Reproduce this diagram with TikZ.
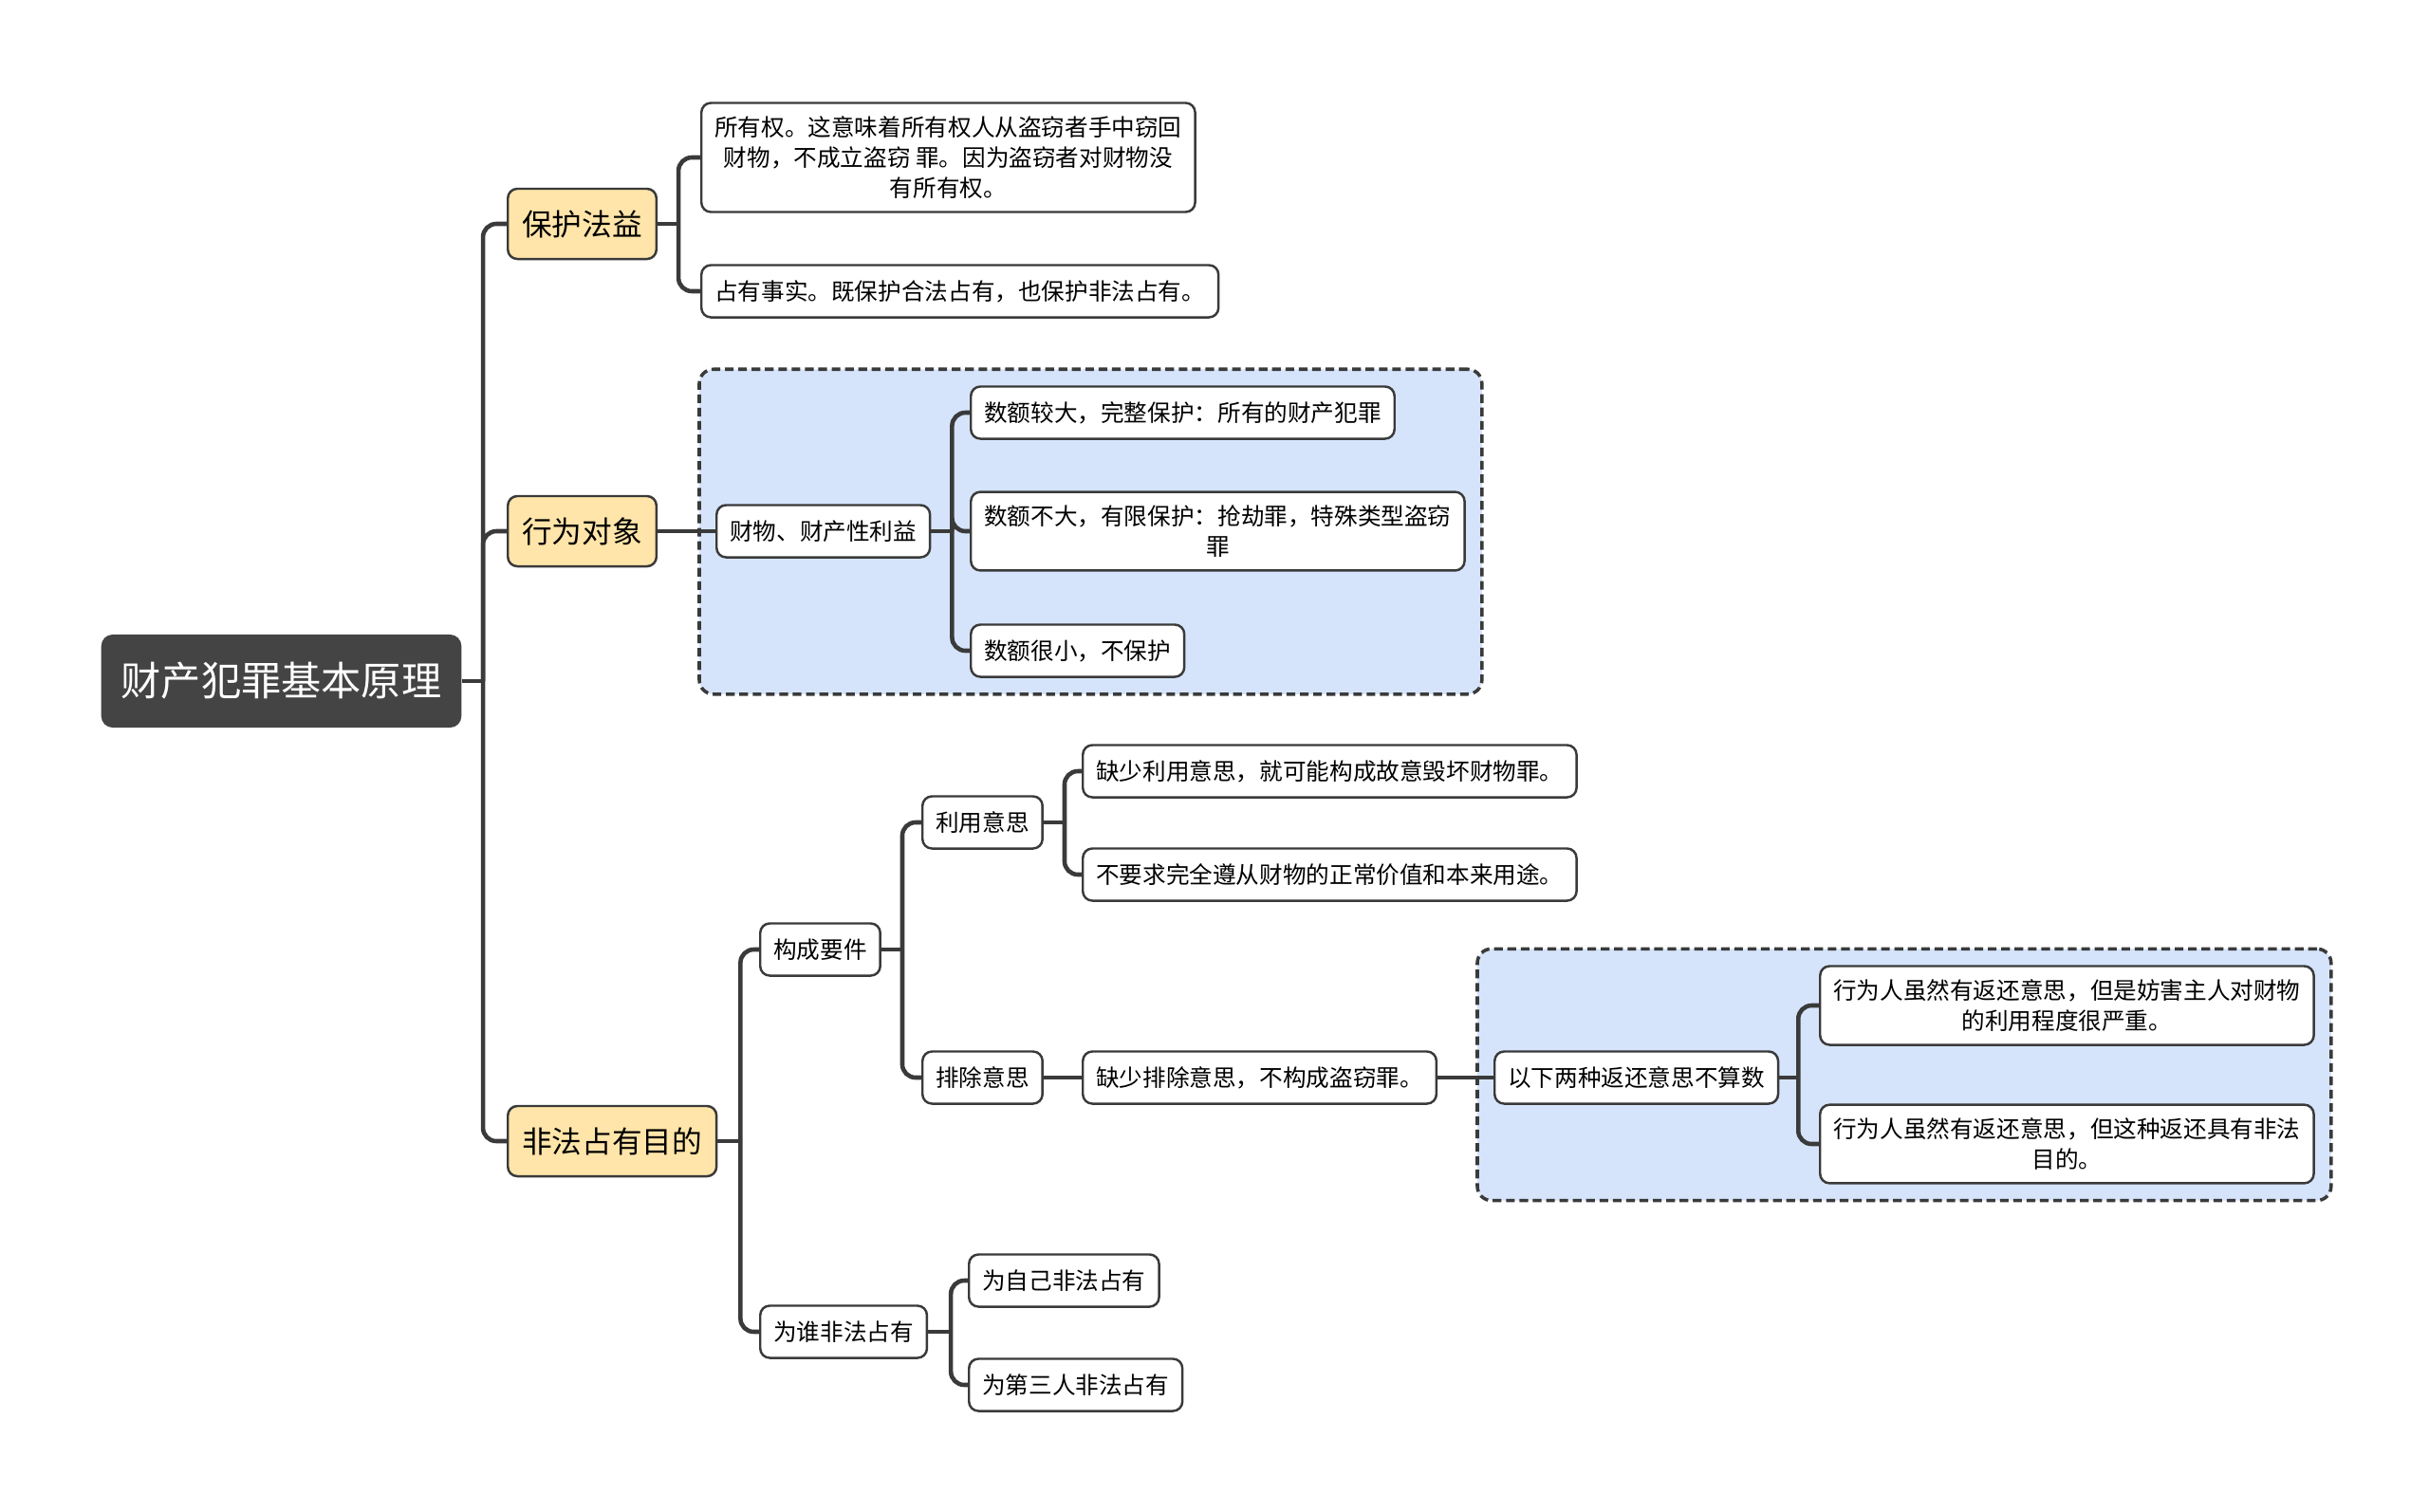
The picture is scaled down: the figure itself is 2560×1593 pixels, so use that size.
\documentclass[tikz,border=0pt]{standalone}
\usepackage{fontspec}
\setmainfont{Noto Sans CJK SC}
\usepackage{tikz}
\usetikzlibrary{fit,backgrounds}
\definecolor{mapline}{HTML}{3A3A3A}
\definecolor{maproot}{HTML}{444444}
\definecolor{mapgold}{HTML}{FFE5A9}
\definecolor{mapblue}{HTML}{D5E4FB}
\newcommand{\leaffont}{\fontsize{7}{9.1}\selectfont}

\begin{document}
\begin{tikzpicture}[x=0.01cm, y=-0.01cm,
    root/.style={rectangle, rounded corners=0.12cm, fill=maproot, text=white,
                 anchor=west, minimum height=0.98cm, inner xsep=0.21cm,
                 font=\fontsize{12}{14}\selectfont},
    topic/.style={rectangle, rounded corners=0.1cm, draw=mapline, line width=0.7pt,
                  fill=mapgold, anchor=west, minimum height=0.74cm, inner xsep=0.15cm,
                  font=\fontsize{9}{11}\selectfont},
    leaf/.style={rectangle, rounded corners=0.1cm, draw=mapline, line width=0.7pt,
                 fill=white, anchor=west, minimum height=0.55cm, inner xsep=0.14cm,
                 inner ysep=0.14cm, align=center, font=\leaffont},
    region/.style={rectangle, rounded corners=0.15cm, draw=mapline, line width=1pt,
                   dash pattern=on 2.6pt off 1.4pt, fill=mapblue, inner sep=0.17cm},
    conn/.style={draw=mapline, line width=1.3pt, rounded corners=0.14cm}]

    \useasboundingbox (0,0) rectangle (2560,1593);

    %% Root and main topics
    \node[root] (root) at (106,718) {财产犯罪基本原理};
    \node[topic] (hufa) at (534,236) {保护法益};
    \node[topic] (duixiang) at (534,560) {行为对象};
    \node[topic] (mudi) at (534,1203) {非法占有目的};

    %% 保护法益
    \node[leaf] (suoyou) at (738,166)
      {所有权。这意味着所有权人从盗窃者手中窃回\\财物，不成立盗窃 罪。因为盗窃者对财物没\\有所有权。};
    \node[leaf] (zhanyou) at (738,307) {占有事实。既保护合法占有，也保护非法占有。};

    %% 行为对象
    \node[leaf] (caiwu) at (754,560) {财物、财产性利益};
    \node[leaf] (big) at (1022,435) {数额较大，完整保护：所有的财产犯罪};
    \node[leaf] (mid) at (1022,560) {数额不大，有限保护：抢劫罪，特殊类型盗窃\\罪};
    \node[leaf] (small) at (1022,686) {数额很小，不保护};

    %% 非法占有目的
    \node[leaf] (yaojian) at (800,1001) {构成要件};
    \node[leaf] (weishui) at (800,1404) {为谁非法占有};
    \node[leaf] (liyong) at (971,867) {利用意思};
    \node[leaf] (paichu) at (971,1136) {排除意思};
    \node[leaf] (liyongA) at (1140,813) {缺少利用意思，就可能构成故意毁坏财物罪。};
    \node[leaf] (liyongB) at (1140,922) {不要求完全遵从财物的正常价值和本来用途。};
    \node[leaf] (paichuA) at (1140,1136) {缺少排除意思，不构成盗窃罪。};
    \node[leaf] (fanhuan) at (1574,1136) {以下两种返还意思不算数};
    \node[leaf] (fanhuanA) at (1917,1060)
      {行为人虽然有返还意思，但是妨害主人对财物\\的利用程度很严重。};
    \node[leaf] (fanhuanB) at (1917,1206)
      {行为人虽然有返还意思，但这种返还具有非法\\目的。};
    \node[leaf] (ziji) at (1020,1350) {为自己非法占有};
    \node[leaf] (disan) at (1020,1460) {为第三人非法占有};

    %% dashed groups
    \begin{scope}[on background layer]
      \fill[white] (0,0) rectangle (2560,1593);
      \node[region, fit=(caiwu)(big)(mid)(small)] (groupA) {};
      \node[region, fit=(fanhuan)(fanhuanA)(fanhuanB)] (groupB) {};
    \end{scope}

    %% junctions
    \coordinate (jRoot) at ([xshift=0.22cm]root.east);
    \coordinate (jHufa) at ([xshift=0.22cm]hufa.east);
    \coordinate (jCaiwu) at ([xshift=0.22cm]caiwu.east);
    \coordinate (jMudi) at ([xshift=0.24cm]mudi.east);
    \coordinate (jYaojian) at ([xshift=0.22cm]yaojian.east);
    \coordinate (jLiyong) at ([xshift=0.22cm]liyong.east);
    \coordinate (jFanhuan) at ([xshift=0.2cm]fanhuan.east);
    \coordinate (jWeishui) at ([xshift=0.24cm]weishui.east);

    %% connectors
    \draw[conn] (root.east) -- (jRoot);
    \foreach \c in {hufa,duixiang,mudi} \draw[conn] (jRoot) |- (\c.west);
    \draw[conn] (hufa.east) -- (jHufa);
    \foreach \c in {suoyou,zhanyou} \draw[conn] (jHufa) |- (\c.west);
    \draw[conn] (duixiang.east) -- (caiwu.west);
    \draw[conn] (caiwu.east) -- (jCaiwu);
    \foreach \c in {big,mid,small} \draw[conn] (jCaiwu) |- (\c.west);
    \draw[conn] (mudi.east) -- (jMudi);
    \foreach \c in {yaojian,weishui} \draw[conn] (jMudi) |- (\c.west);
    \draw[conn] (yaojian.east) -- (jYaojian);
    \foreach \c in {liyong,paichu} \draw[conn] (jYaojian) |- (\c.west);
    \draw[conn] (liyong.east) -- (jLiyong);
    \foreach \c in {liyongA,liyongB} \draw[conn] (jLiyong) |- (\c.west);
    \draw[conn] (paichu.east) -- (paichuA.west);
    \draw[conn] (paichuA.east) -- (fanhuan.west);
    \draw[conn] (fanhuan.east) -- (jFanhuan);
    \foreach \c in {fanhuanA,fanhuanB} \draw[conn] (jFanhuan) |- (\c.west);
    \draw[conn] (weishui.east) -- (jWeishui);
    \foreach \c in {ziji,disan} \draw[conn] (jWeishui) |- (\c.west);
\end{tikzpicture}
\end{document}
